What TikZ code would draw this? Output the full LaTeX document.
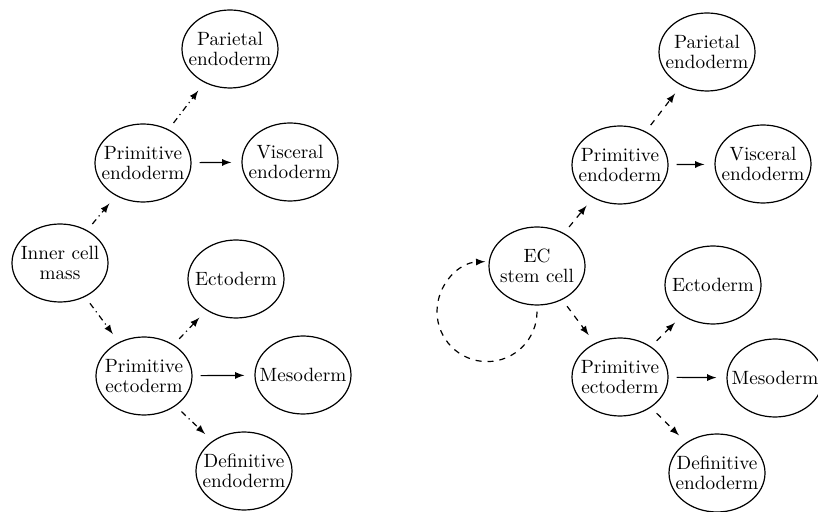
\documentclass[tikz,border=0pt]{standalone}
\usetikzlibrary{shapes.geometric}
\tikzset{
  cell/.style={draw, ellipse, inner xsep=-5pt, inner ysep=0pt, minimum width=48pt, minimum height=39pt,
    align=center, font=\fontsize{9.6}{10}\selectfont},
  dev/.style={-latex, dashed, shorten <=4pt, shorten >=5pt},
  dot/.style={-latex, dash dot, shorten <=4pt, shorten >=5pt},
  dir/.style={-latex, shorten <=4pt, shorten >=5pt}
}
\begin{document}
\begin{tikzpicture}
[x=0.5pt, y=0.5pt, line width=0.6pt, color=black]
\useasboundingbox (0,0) rectangle (818,-512);
% inner cell mass
\node [cell] (a0) at (60,-263) {Inner cell\\mass};
\node [cell] (a1) at (143,-163) {Primitive\\endoderm};
\node [cell] (a2) at (230,-49) {Parietal\\endoderm};
\node [cell] (a3) at (290,-162) {Visceral\\endoderm};
\node [cell] (a4) at (144,-376) {Primitive\\ectoderm};
\node [cell] (a5) at (236,-279) {Ectoderm};
\node [cell] (a6) at (303,-375) {Mesoderm};
\node [cell] (a7) at (244,-471) {Definitive\\endoderm};
\draw [dot] (a0) -- (a1);
\draw [dot] (a1) -- (a2);
\draw [dir] (a1) -- (a3);
\draw [dot] (a0) -- (a4);
\draw [dot] (a4) -- (a5);
\draw [dir] (a4) -- (a6);
\draw [dot] (a4) -- (a7);
% EC stem cell
\node [cell] (b0) at (537,-266) {EC\\stem cell};
\node [cell] (b1) at (620,-165) {Primitive\\endoderm};
\node [cell] (b2) at (707,-52) {Parietal\\endoderm};
\node [cell] (b3) at (763,-164) {Visceral\\endoderm};
\node [cell] (b4) at (620,-377) {Primitive\\ectoderm};
\node [cell] (b5) at (713,-285) {Ectoderm};
\node [cell] (b6) at (775,-378) {Mesoderm};
\node [cell] (b7) at (717,-473) {Definitive\\endoderm};
\draw [-latex, dashed] ([yshift=-3pt]b0.south) arc [start angle=0, end angle=-268, radius=25pt];
\draw [dev] (b0) -- (b1);
\draw [dev] (b1) -- (b2);
\draw [dir] (b1) -- (b3);
\draw [dev] (b0) -- (b4);
\draw [dev] (b4) -- (b5);
\draw [dir] (b4) -- (b6);
\draw [dev] (b4) -- (b7);
\end{tikzpicture}
\end{document}
